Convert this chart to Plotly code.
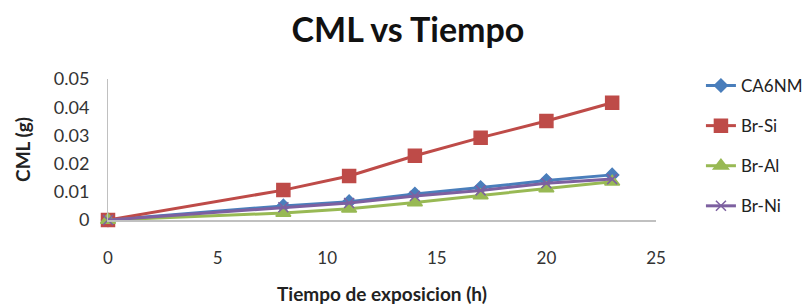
import plotly.graph_objects as go

hours = [0, 8, 11, 14, 17, 20, 23]
ca6nm = [0, 0.005, 0.0065, 0.0092, 0.0115, 0.014, 0.016]
br_si = [0, 0.0106, 0.0156, 0.0228, 0.0292, 0.0351, 0.0416]
br_al = [0, 0.0025, 0.004, 0.0062, 0.0087, 0.0112, 0.0136]
br_ni = [0, 0.0045, 0.006, 0.0085, 0.0105, 0.013, 0.0145]

series = [
    ("CA6NM", ca6nm, "#4a7ebb", "diamond", 10),
    ("Br-Si", br_si, "#be4b48", "square", 13),
    ("Br-Al", br_al, "#98b954", "triangle-up", 13),
    ("Br-Ni", br_ni, "#7d60a0", "x-thin", 10),
]

fig = go.Figure()
for i, (name, vals, color, sym, size) in enumerate(series):
    fig.add_trace(go.Scatter(
        x=hours, y=vals, name=name, mode="lines+markers",
        line=dict(color=color, width=3),
        marker=dict(symbol=sym, size=size, color=color,
                    line=dict(color=color, width=1.5)),
        cliponaxis=False, legendgroup=f"g{i}",
    ))

font_family = "Lato, 'Open Sans', sans-serif"
fig.update_layout(
    width=812, height=307,
    margin=dict(l=100, r=161, t=71, b=95),
    paper_bgcolor="white", plot_bgcolor="white",
    font=dict(family=font_family, color="#333333", size=18),
    title=dict(text="<b>CML vs Tiempo</b>", x=0.4926, xanchor="center",
               y=0.928, yanchor="middle", yref="container",
               font=dict(size=34, color="#111111", family=font_family)),
    legend=dict(x=1.082, xanchor="left", y=0.525, yanchor="middle",
                font=dict(size=17, color="#222222"),
                traceorder="grouped", tracegroupgap=15,
                maxheight=307,
                bgcolor="rgba(0,0,0,0)"),
    showlegend=True,
)
fig.update_xaxes(range=[0, 25], dtick=5, tick0=0, showgrid=False,
                 zeroline=False, showline=True, linecolor="#c0c0c0",
                 linewidth=2, ticks="outside", ticklen=22,
                 tickcolor="rgba(0,0,0,0)",
                 tickfont=dict(size=17),
                 title=dict(text="<b>Tiempo de exposicion (h)</b>",
                            font=dict(size=19, color="#222222"), standoff=20))
fig.update_yaxes(range=[0, 0.05], dtick=0.01, tick0=0, showgrid=False,
                 zeroline=False, showline=True, linecolor="#c0c0c0",
                 linewidth=1, ticks="outside", ticklen=14,
                 tickcolor="rgba(0,0,0,0)",
                 tickformat="~g", tickfont=dict(size=18),
                 title=dict(text="<b>CML (g)</b>",
                            font=dict(size=19, color="#222222"), standoff=18))

fig.write_html("out.html")
